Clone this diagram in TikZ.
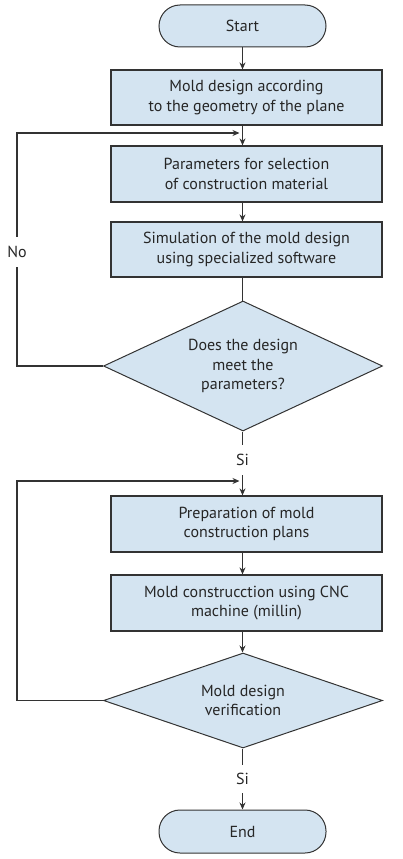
\documentclass[tikz,border=0pt]{standalone}
\usepackage{fontspec}
\setmainfont{PT Sans}
\usetikzlibrary{shapes.geometric,arrows.meta}
\definecolor{boxfill}{HTML}{D4E4F1}
\definecolor{edge}{HTML}{333333}
\begin{document}
\begin{tikzpicture}[x=1pt,y=-1pt,
  every node/.style={font=\fontsize{16}{19.5}\selectfont, text=black!85},
  procbox/.style={draw=edge, line width=1.2pt, fill=boxfill, minimum width=271pt, minimum height=55pt, inner sep=0pt, align=center},
  termbox/.style={draw=edge, line width=1pt, fill=boxfill, rounded corners=21pt, minimum width=167pt, minimum height=42pt, inner sep=0pt},
  decbox/.style={draw=edge, line width=1pt, fill=boxfill, diamond, aspect=2.15, minimum width=279pt, minimum height=130pt, inner sep=0pt, align=center},
  conn/.style={draw=edge, line width=1.1pt},
  arr/.style={conn, -{Stealth[length=7pt,width=6pt]}},
  lbl/.style={inner sep=0pt}
]
\useasboundingbox (0,0) rectangle (402,859);
\node[termbox] (start) at (242.5,26) {Start};
\node[procbox] (b1) at (246.5,97.5) {Mold design according\\to the geometry of the plane};
\node[procbox, minimum height=56pt] (b2) at (246.5,174) {Parameters for selection\\of construction material};
\node[procbox] (b3) at (246.5,249.5) {Simulation of the mold design\\using specialized software};
\node[decbox] (d1) at (243,366) {Does the design\\meet the\\parameters?};
\node[lbl, minimum height=30pt] (si1) at (242.5,460) {Si};
\node[procbox, minimum height=56pt] (b4) at (246.5,524) {Preparation of mold\\construction plans};
\node[procbox, minimum height=56pt] (b5) at (246.5,603) {Mold construcction using CNC\\machine (millin)};
\node[decbox, minimum height=95pt, aspect=2.9] (d2) at (243,700.5) {Mold design\\verification};
\node[lbl, minimum height=28pt] (si2) at (242.5,779) {Si};
\node[termbox, minimum height=43pt] (end) at (242.5,831.5) {End};
\node[lbl, minimum height=30pt] (no) at (17,252) {No};
\coordinate (m1) at (239.5,133);
\coordinate (m2) at (239.5,481);
% main flow
\draw[arr] (start.south) -- (start.south |- b1.north);
\draw[arr] (start.south |- b1.south) -- (start.south |- b2.north);
\draw[arr] (start.south |- b2.south) -- (start.south |- b3.north);
\draw[conn] (start.south |- b3.south) -- (start.south |- d1.north);
\draw[conn] (start.south |- d1.south) -- (si1.north);
\draw[arr] (si1.south) -- (start.south |- b4.north);
\draw[arr] (start.south |- b4.south) -- (start.south |- b5.north);
\draw[arr] (start.south |- b5.south) -- (start.south |- d2.north);
\draw[conn] (start.south |- d2.south) -- (si2.north);
\draw[arr] (si2.south) -- (end.north);
% loops
\draw[conn] (d1.west) -| (no.south);
\draw[arr] (no.north) |- (m1);
\draw[arr] (d2.west) -| (no.south |- m2) -- (m2);
\end{tikzpicture}
\end{document}
